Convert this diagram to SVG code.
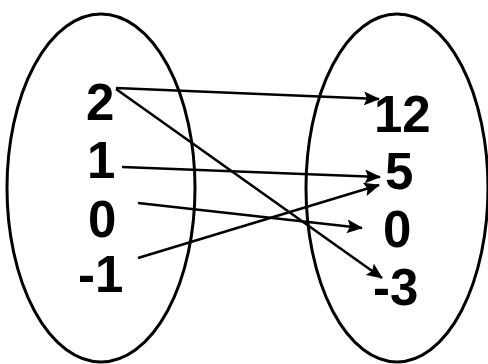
<svg xmlns="http://www.w3.org/2000/svg" width="488" height="364" viewBox="0 0 488 364">
<style>
.set{fill:none;stroke:#000;stroke-width:3}
.lbl{font-family:"Liberation Sans",Arial,sans-serif;font-size:51px;font-weight:bold;fill:#000}
.arr{stroke:#000;stroke-width:2.6;fill:none;marker-end:url(#ah)}
</style>
<defs>
<marker id="ah" markerUnits="userSpaceOnUse" markerWidth="16" markerHeight="14" refX="15" refY="7" orient="auto">
<path d="M0,0 L16,7 L0,14 L3,7 Z" fill="#000"/>
</marker>
</defs>
<rect width="488" height="364" fill="#fff"/>
<g id="domain">
<ellipse class="set" cx="101" cy="188" rx="94" ry="174"/>
<text class="lbl" x="86" y="120">2</text>
<text class="lbl" x="87" y="178">1</text>
<text class="lbl" x="88" y="237">0</text>
<text class="lbl" x="78" y="292">-1</text>
</g>
<g id="range">
<ellipse class="set" cx="397" cy="188" rx="91" ry="174"/>
<text class="lbl" x="374" y="132">12</text>
<text class="lbl" x="385" y="189">5</text>
<text class="lbl" x="383" y="247">0</text>
<text class="lbl" x="373" y="305">-3</text>
</g>
<g id="connectors">
<line class="arr" x1="116" y1="88" x2="379" y2="99"/>
<line class="arr" x1="116" y1="89" x2="382" y2="278"/>
<line class="arr" x1="122" y1="167" x2="380" y2="177"/>
<line class="arr" x1="138" y1="203" x2="362" y2="228"/>
<line class="arr" x1="138" y1="258" x2="379" y2="185"/>
</g>
</svg>
